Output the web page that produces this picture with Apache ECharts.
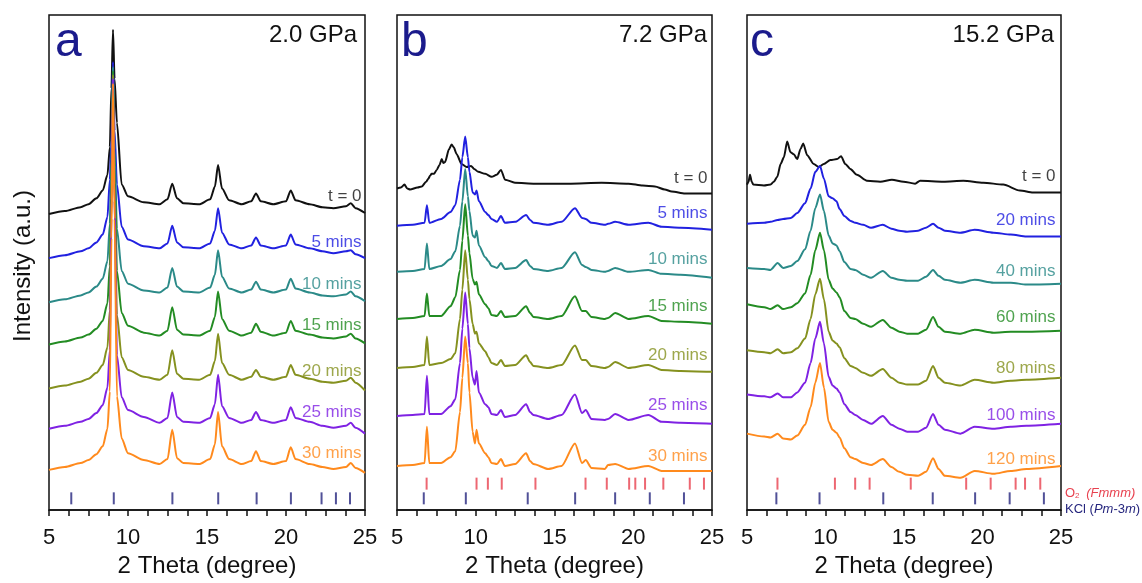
<!DOCTYPE html>
<html><head><meta charset="utf-8">
<script src="https://cdn.jsdelivr.net/npm/echarts@6/dist/echarts.min.js"></script>
<style>html,body{margin:0;padding:0;background:#fff}#c{width:1142px;height:583px}</style>
</head><body><div id="c"></div>
<script>
// ---------- Panel a (2.0 GPa) ----------
const xA = [5, 6, 7, 7.5, 8, 8.4, 8.7, 8.85, 8.95, 9.05, 9.15, 9.3, 9.6, 10, 11, 12, 12.5, 12.8, 13.1, 13.5, 14.5, 15.2, 15.5, 15.7, 15.95, 16.4, 17.2, 17.8, 18.1, 18.4, 19.2, 20.0, 20.3, 20.6, 21.5, 22.3, 23.0, 23.8, 24.1, 24.4, 25];
const a_t0  = [302,305,309,312,318,326,342,370,430,490,440,395,332,320,314,312,317,333,318,313,312,317,330,352,328,316,312,315,323,315,312,315,326,316,312,309,308,310,313,308,303];
const a_5   = [257,260,264,267,273,281,299,337,377,457,387,332,289,276,269,267,272,290,273,268,267,272,285,308,283,271,267,270,278,270,267,270,281,271,267,264,262,264,265,261,257];
const a_10  = [212,215,219,222,228,236,254,292,356,452,368,287,244,231,224,222,227,247,228,223,222,227,240,265,238,226,222,225,233,225,222,225,236,226,222,219,218,220,223,218,213];
const a_15  = [169,172,176,179,185,193,211,249,336,448,350,244,201,188,181,178,183,207,184,179,178,183,197,223,195,183,178,181,190,182,178,181,193,183,179,176,175,177,180,175,170];
const a_20  = [124,127,131,134,140,148,166,204,316,444,332,199,156,143,136,133,138,163,139,134,133,138,152,180,150,138,133,136,143,136,133,136,148,138,134,131,130,132,135,130,122];
const a_25  = [83,86,90,93,99,107,125,163,297,440,315,158,115,102,95,89,94,120,95,90,89,94,108,138,106,94,89,92,100,92,89,92,105,94,90,86,84,86,89,84,78];
const a_30  = [41,44,48,51,57,65,83,121,277,435,297,116,73,58,51,47,52,82,53,48,47,52,67,100,65,52,47,50,60,50,47,50,64,52,47,44,42,44,48,43,38];
const a_kcl = [6.41, 9.10, 12.81, 15.71, 18.14, 20.31, 22.25, 23.16, 24.05];
const a_labels = ['t = 0', '5 mins', '10 mins', '15 mins', '20 mins', '25 mins', '30 mins'];
const a_labelY = [320, 273, 230, 188, 142, 100, 58];

// ---------- Panel b (7.2 GPa) ----------
const xB0 = [5.0, 5.25, 5.47, 5.65, 5.83, 6.3, 6.57, 6.85, 6.99, 7.1, 7.2, 7.35, 7.52, 7.7, 7.84, 7.95, 8.05, 8.3, 8.47, 8.6, 8.79, 9.1, 9.42, 9.7, 9.9, 10.16, 10.6, 11.01, 11.33, 11.6, 11.86, 12.49, 13.76, 15.88, 17.99, 19.69, 20.6, 21.38, 22.0, 22.44, 23.29, 25];
const b_t0 = [328,329,332,328,327,329,330,335,338,341,343,343,347,352,358,354,355,368,373,370,363,353,350,351,348,345,343,340,342,347,337,334,333,333,334,333,331,330,327,325,323,323];
const xB = [5, 6, 6.75, 6.9, 7.05, 7.8, 8.4, 8.7, 9.0, 9.15, 9.33, 9.5, 9.6, 9.8, 9.95, 10.05, 10.2, 10.6, 10.8, 11.0, 11.35, 11.6, 11.85, 12.5, 13.2, 13.45, 13.66, 14.6, 15.45, 16.3, 16.75, 16.98, 17.35, 18.2, 18.4, 18.85, 19.7, 20.96, 21.8, 23.0, 25];
const b_5  = [290,291,293,311,293,297,304,311,337,360,381,360,345,324,322,326,315,304,301,297,294,300,293,294,301,296,293,291,294,308,298,297,293,291,292,294,291,293,289,288,286];
const b_10 = [243,244,246,272,246,249,256,264,290,315,348,320,305,280,278,285,270,258,254,249,247,252,246,247,255,249,246,244,247,263,250,248,245,243,244,247,243,245,241,240,237];
const b_15 = [195,196,198,221,198,198,208,217,245,275,312,280,262,236,230,233,220,210,206,199,198,203,197,198,208,201,197,195,198,218,203,203,197,195,196,201,195,198,193,192,190];
const b_20 = [145,146,148,177,148,150,154,160,195,225,265,235,215,190,180,182,170,162,156,150,148,153,147,148,158,151,147,145,148,168,153,153,147,145,146,151,145,148,143,142,141];
const b_25 = [96,97,98,137,98,98,106,113,150,185,222,190,165,135,128,142,120,108,105,98,97,102,95,97,108,100,97,93,97,118,99,102,93,92,93,98,92,97,90,89,88];
const b_30 = [45,46,48,85,48,48,54,60,100,135,177,150,120,80,68,82,68,58,54,48,47,52,45,47,58,50,47,42,45,68,48,51,43,42,46,47,42,45,40,40,40];
const b_o2  = [6.88, 10.05, 10.77, 11.65, 13.79, 16.97, 18.32, 19.74, 20.13, 20.75, 21.91, 23.59, 24.49];
const b_kcl = [6.70, 9.37, 13.30, 16.31, 18.85, 21.05, 23.22];
const b_labels = ['t = 0', '5 mins', '10 mins', '15 mins', '20 mins', '25 mins', '30 mins'];
const b_labelY = [338, 303, 256, 208, 158, 107, 55];

// ---------- Panel c (15.2 GPa) ----------
const xC0 = [5.0, 5.1, 5.19, 5.3, 5.4, 6.08, 6.5, 6.71, 6.93, 7.14, 7.35, 7.56, 7.77, 7.98, 8.2, 8.4, 8.58, 8.83, 9.25, 9.57, 9.89, 10.31, 10.74, 10.99, 11.26, 11.58, 12.0, 12.64, 13.49, 14.23, 14.97, 15.71, 16.03, 17.51, 18.78, 20.05, 21.32, 22.38, 23.22, 25];
const c_t0 = [332,335,342,335,332,331,332,335,340,353,360,376,365,363,358,368,374,362,353,350,353,357,358,361,353,348,342,336,335,337,335,333,336,335,336,334,332,326,324,324];
const xC = [5, 6.1, 6.5, 6.95, 7.3, 7.8, 8.2, 8.7, 9.05, 9.35, 9.65, 9.9, 10.2, 10.45, 10.7, 10.9, 11.2, 11.6, 11.9, 12.4, 12.9, 13.65, 14.2, 14.7, 15.2, 15.9, 16.4, 16.85, 17.2, 17.6, 18.6, 19.5, 20.7, 21.8, 22.8, 25];
const c_20  = [292,293,294,296,297,298,303,313,328,345,351,338,320,318,315,307,300,295,293,291,288,291,287,285,284,285,288,292,288,285,283,286,283,281,279,279];
const c_40  = [247,246,245,252,247,249,254,266,285,308,322,305,280,272,270,264,253,246,245,240,237,244,237,235,234,234,238,245,239,235,232,235,232,232,230,231];
const c_60  = [210,207,205,209,205,207,211,221,240,265,283,265,235,226,222,217,203,196,195,190,187,194,186,182,180,180,184,197,187,182,180,184,181,182,182,183];
const c_80  = [163,161,160,164,160,161,165,175,195,220,236,215,182,173,170,166,155,147,145,140,137,144,135,130,128,128,132,147,135,130,127,133,130,132,133,135];
const c_100 = [118,116,115,119,115,115,120,130,150,175,192,170,136,127,124,120,108,100,97,92,88,96,87,83,80,80,84,98,87,82,78,85,83,85,86,88];
const c_120 = [78,75,74,78,73,72,76,87,105,130,150,125,90,82,79,74,63,54,52,48,46,52,44,39,36,35,39,53,42,35,33,40,37,40,42,45];
const c_o2  = [6.94, 10.60, 11.89, 12.81, 15.43, 18.96, 20.52, 22.11, 22.71, 23.68];
const c_kcl = [6.87, 9.62, 13.68, 16.83, 19.53, 21.73, 23.91];
const c_labels = ['t = 0', '20 mins', '40 mins', '60 mins', '80 mins', '100 mins', '120 mins'];
const c_labelY = [340, 296, 244, 197, 145, 97, 52];

const xTicks = [5, 10, 15, 20, 25];
const pressures = ['2.0 GPa', '7.2 GPa', '15.2 GPa'];
const panelLetters = ['a', 'b', 'c'];

// ---------- styling ----------
const FONT = '"Liberation Sans", Arial, Helvetica, sans-serif';
const COLORS = ['#111111', '#2121e0', '#2b8a88', '#238c23', '#85911f', '#7f22e3', '#ff8a1d'];
const RED = '#e8414f', NAVY = '#26267e', LETTER = '#1b1b8c';
const grids = [
  {left: 49, top: 15, width: 316, height: 505},
  {left: 397, top: 15, width: 315, height: 505},
  {left: 747, top: 15, width: 314, height: 505}
];
const labelRight = [3, 4, 5];

const pair = (xs, ys) => xs.map((x, i) => [x, ys[i]]);
const panels = [
  {curves: [[xA, a_t0], [xA, a_5], [xA, a_10], [xA, a_15], [xA, a_20], [xA, a_25], [xA, a_30]], labels: a_labels, labelY: a_labelY, o2: null, kcl: a_kcl},
  {curves: [[xB0, b_t0], [xB, b_5], [xB, b_10], [xB, b_15], [xB, b_20], [xB, b_25], [xB, b_30]], labels: b_labels, labelY: b_labelY, o2: b_o2, kcl: b_kcl},
  {curves: [[xC0, c_t0], [xC, c_20], [xC, c_40], [xC, c_60], [xC, c_80], [xC, c_100], [xC, c_120]], labels: c_labels, labelY: c_labelY, o2: c_o2, kcl: c_kcl}
];

const series = [];
panels.forEach((p, gi) => {
  p.curves.forEach((c, ci) => {
    series.push({
      type: 'line', xAxisIndex: gi, yAxisIndex: gi, data: pair(c[0], c[1]),
      showSymbol: false, symbol: 'none', smooth: 0.25, smoothMonotone: 'x',
      lineStyle: {width: 2, color: COLORS[ci]}, itemStyle: {color: COLORS[ci]},
      silent: true, z: 2 + ci
    });
  });
  series.push({
    type: 'scatter', xAxisIndex: gi, yAxisIndex: gi, symbolSize: 1, silent: true, z: 20,
    itemStyle: {color: 'transparent'},
    data: p.labels.map((t, i) => ({
      value: [25, p.labelY[i]],
      label: {show: true, position: 'left', distance: labelRight[gi], formatter: t,
        color: COLORS[i], fontSize: 17, fontFamily: FONT}
    }))
  });
  if (p.o2) series.push({
    type: 'scatter', xAxisIndex: gi, yAxisIndex: gi, symbol: 'rect', symbolSize: [2, 12], silent: true,
    itemStyle: {color: RED}, data: p.o2.map(x => [x, 27])
  });
  series.push({
    type: 'scatter', xAxisIndex: gi, yAxisIndex: gi, symbol: 'rect', symbolSize: [2, 12], silent: true,
    itemStyle: {color: NAVY}, data: p.kcl.map(x => [x, 12])
  });
});

const graphic = [];
const letterX = [55, 401, 750];
const pressX = [357, 707, 1054];
panelLetters.forEach((l, i) => {
  graphic.push({type: 'text', x: letterX[i], y: 43, silent: true,
    style: {text: l, fontSize: 48, fontFamily: FONT, fill: LETTER, verticalAlign: 'middle'}});
  graphic.push({type: 'text', x: pressX[i], y: 35, silent: true,
    style: {text: pressures[i], fontSize: 24, fontFamily: FONT, fill: '#111', align: 'right', verticalAlign: 'middle'}});
});
graphic.push({type: 'text', x: 23, y: 266, rotation: Math.PI / 2, silent: true,
  style: {text: 'Intensity (a.u.)', fontSize: 24, fontFamily: FONT, fill: '#111', align: 'center', verticalAlign: 'middle'}});
graphic.push({type: 'text', x: 1065, y: 493, silent: true,
  style: {text: '{n|O}{s|2}  {i|(Fmmm)}', verticalAlign: 'middle', fontFamily: FONT,
    rich: {n: {fontSize: 13, fill: RED, fontFamily: FONT}, s: {fontSize: 8, fill: RED, fontFamily: FONT, verticalAlign: 'bottom', padding: [4, 0, 0, 0]},
           i: {fontSize: 13, fill: RED, fontStyle: 'italic', fontFamily: FONT}}}});
graphic.push({type: 'text', x: 1065, y: 509, silent: true,
  style: {text: '{b|KCl (}{i|Pm}{b|-3}{i|m}{b|)}', verticalAlign: 'middle', fontFamily: FONT,
    rich: {b: {fontSize: 13, fill: NAVY, fontFamily: FONT}, i: {fontSize: 13, fill: NAVY, fontStyle: 'italic', fontFamily: FONT}}}});

const option = {
  animation: false,
  backgroundColor: '#fff',
  grid: grids.map(g => Object.assign({show: true, borderColor: '#111', borderWidth: 1.5, backgroundColor: 'transparent'}, g)),
  xAxis: grids.map((g, i) => ({
    gridIndex: i, type: 'value', min: xTicks[0], max: xTicks[xTicks.length - 1], interval: 5,
    axisLine: {show: true, onZero: false, lineStyle: {color: '#111', width: 1.5}},
    axisTick: {show: true, inside: false, length: 6, lineStyle: {color: '#111', width: 1.5}},
    minorTick: {show: true, splitNumber: 4, length: 6, lineStyle: {color: '#111', width: 1.5}},
    splitLine: {show: false},
    axisLabel: {color: '#111', fontSize: 22, fontFamily: FONT, margin: 17},
    name: '2 Theta (degree)', nameLocation: 'middle', nameGap: 41,
    nameTextStyle: {color: '#111', fontSize: 24, fontFamily: FONT}
  })),
  yAxis: grids.map((g, i) => ({gridIndex: i, type: 'value', min: 0, max: 505, show: false})),
  series: series,
  graphic: graphic
};
const chart = echarts.init(document.getElementById('c'), null, {renderer: 'canvas'});
chart.setOption(option);
</script></body></html>
